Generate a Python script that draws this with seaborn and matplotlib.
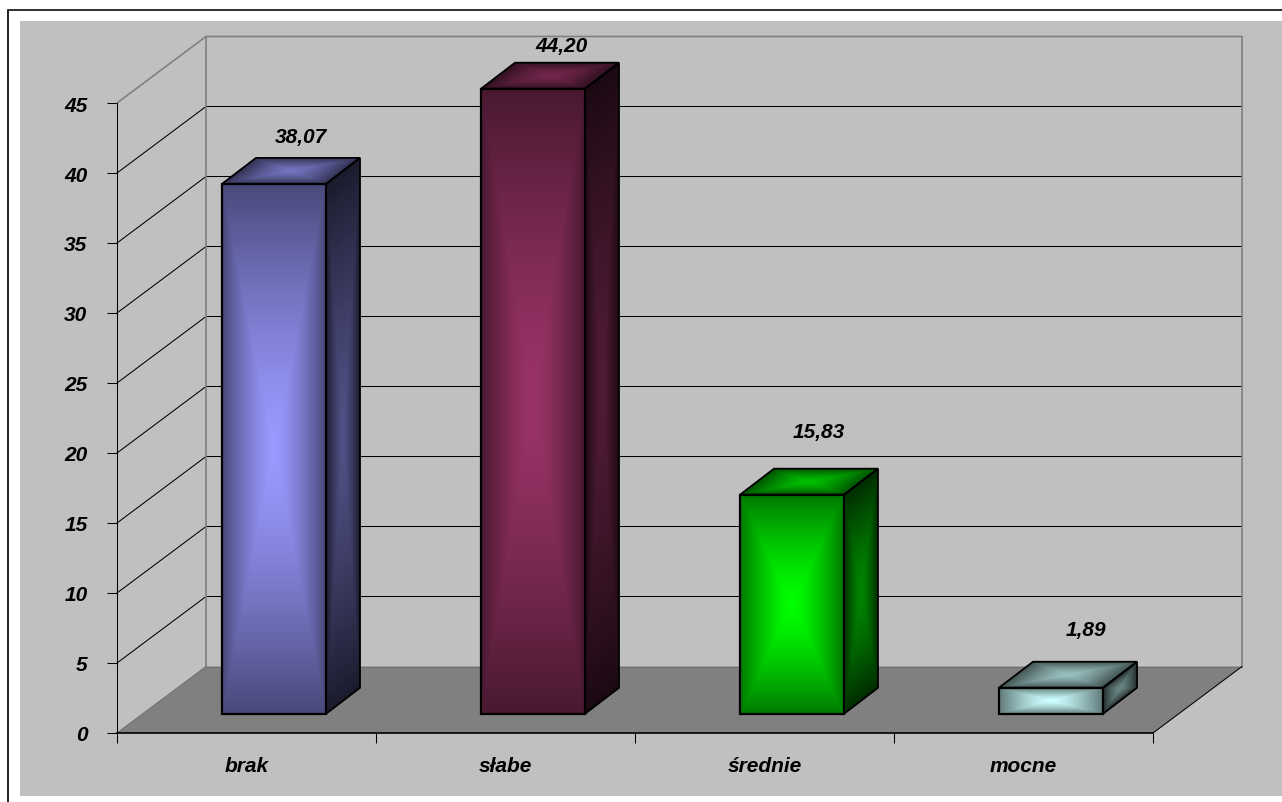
import numpy as np
import pandas as pd
import seaborn as sns
import matplotlib.pyplot as plt
from matplotlib.patches import Polygon, Rectangle
from matplotlib.colors import to_rgb

categories = ['brak', 'słabe', 'średnie', 'mocne']
value_labels = ['38,07', '44,20', '15,83', '1,89']
# bar heights as they are drawn in the picture, the printed labels differ a bit
bar_heights = [37.85, 44.65, 15.65, 1.86]
y_ticks = [0, 5, 10, 15, 20, 25, 30, 35, 40, 45]
bar_colors = ['#9999FF', '#993366', '#00FF00', '#CCFFFF']

W, H = 1282, 803
sns.set_style('white')
plt.rcParams['font.family'] = ['Liberation Sans', 'DejaVu Sans']
plt.rcParams['text.color'] = 'black'
plt.rcParams['ytick.labelcolor'] = 'black'


def px_axes(left, right, top, bottom):
    return [left / W, 1 - bottom / H, (right - left) / W, (bottom - top) / H]


def shade_face(corners, edge_col, mid_col, n=200):
    # corners: bottom-left, bottom-right, top-right, top-left
    c = np.array(corners)
    s = np.linspace(0, 1, n + 1)
    u, v = np.meshgrid(s, s)
    X = (1-u)*(1-v)*c[0, 0] + u*(1-v)*c[1, 0] + u*v*c[2, 0] + (1-u)*v*c[3, 0]
    Y = (1-u)*(1-v)*c[0, 1] + u*(1-v)*c[1, 1] + u*v*c[2, 1] + (1-u)*v*c[3, 1]
    cu = (s[:-1] + s[1:]) / 2
    uu, vv = np.meshgrid(cu, cu)
    t = np.maximum(np.abs(2*uu - 1), np.abs(2*vv - 1)) ** 1.4
    rgb = (1 - t)[..., None] * np.array(mid_col) + t[..., None] * np.array(edge_col)
    # bar_ax has a categorical x axis, so the mesh goes on ax with bar_ax's transform
    ax.pcolormesh(X, Y, rgb, shading='flat', zorder=3, antialiased=False,
                  transform=bar_ax.transData, clip_on=False)


fig = plt.figure(figsize=(W / 100, H / 100), dpi=100, facecolor='white')

# chart area and its outer frame
fig.add_artist(Rectangle((20 / W, 1 - 797 / H), 1262 / W, 775 / H, transform=fig.transFigure,
                         facecolor='#C0C0C0', edgecolor='none', zorder=-1))
fig.add_artist(plt.Line2D([8 / W, 8 / W], [0, 1 - 10.5 / H], color='#202020', lw=1.4, zorder=-1))
fig.add_artist(plt.Line2D([8 / W, 1], [1 - 10.5 / H, 1 - 10.5 / H], color='#303030', lw=1.4, zorder=-1))

# main axes: front plane of the 3d box
ax = fig.add_axes(px_axes(117, 1153, 104, 734))
ax.patch.set_alpha(0)
ax.set_ylim(0, 45)
ax.set_xlim(-0.5, 3.5)
ax.autoscale(False)
sx = 259.0  # pixels per category
sy = 14.0   # pixels per y unit
wall_dx = 89 / sx
wall_dy = 66.5 / sy
x0, x1 = -0.5, 3.5

ax.add_patch(Polygon([(x0, 0), (x1, 0), (x1 + wall_dx, wall_dy), (x0 + wall_dx, wall_dy)],
                     closed=True, facecolor='#808080', edgecolor='none', clip_on=False, zorder=1))
for tick in y_ticks[1:-1]:
    ax.plot([x0, x0 + wall_dx, x1 + wall_dx], [tick, tick + wall_dy, tick + wall_dy],
            color='black', lw=0.75, clip_on=False, zorder=2)
ax.plot([x0, x0 + wall_dx, x1 + wall_dx, x1 + wall_dx],
        [45, 45 + wall_dy, 45 + wall_dy, wall_dy], color='#808080', lw=1.2, clip_on=False, zorder=2)
ax.plot([x0 + wall_dx, x0 + wall_dx], [45 + wall_dy, wall_dy], color='#808080', lw=1.2,
        clip_on=False, zorder=2)
ax.plot([x0, x0 + wall_dx], [0, wall_dy], color='#707070', lw=0.75, clip_on=False, zorder=2)
ax.plot([x0 + wall_dx, x1 + wall_dx], [wall_dy, wall_dy], color='#707070', lw=0.75,
        clip_on=False, zorder=2)
ax.plot([x1, x1 + wall_dx], [0, wall_dy], color='black', lw=0.75, clip_on=False, zorder=2)

for side in ['top', 'right']:
    ax.spines[side].set_visible(False)
for side in ['left', 'bottom']:
    ax.spines[side].set_color('black')
    ax.spines[side].set_linewidth(0.75)
ax.spines['bottom'].set_linewidth(1.2)
ax.set_yticks(y_ticks)
ax.set_xticks(np.arange(-0.5, 4, 1))
ax.set_xticklabels([])
ax.tick_params(axis='both', direction='out', length=7.2, width=0.75, color='black', left=True, bottom=True)
ax.set_yticklabels([str(v) for v in y_ticks], fontsize=15, fontweight='bold', fontstyle='italic')
ax.tick_params(axis='y', pad=14)
for i, name in enumerate(categories):
    ax.annotate(name, (i, 0), xytext=(0, -33), textcoords='offset pixels', ha='center', va='center',
                fontsize=15, fontweight='bold', fontstyle='italic', annotation_clip=False)

# bars sit inside the depth of the floor, so same scales but shifted axes
bar_ax = fig.add_axes(px_axes(117 + 27.5, 1153 + 27.5, 84.8, 714.8))
bar_ax.patch.set_alpha(0)
df = pd.DataFrame({'kategoria': categories, 'wartosc': bar_heights})
sns.barplot(data=df, x='kategoria', y='wartosc', hue='kategoria', palette=bar_colors, width=104 / 259,
            edgecolor='black', linewidth=1.6, legend=False, ax=bar_ax, zorder=5)
bar_ax.set_xlim(-0.5, 3.5)
bar_ax.set_ylim(0, 45)
bar_ax.axis('off')

bar_dx = 34 / sx
bar_dy = 26 / sy
# the labels do not sit at one fixed distance from the bars in the reference
label_nudges = [(10, 21), (11, 17), (10, 37), (18, 32)]
for patch, color, label, nudge in zip(list(bar_ax.patches), bar_colors, value_labels, label_nudges):
    base = np.array(to_rgb(color))
    xl, w, h = patch.get_x(), patch.get_width(), patch.get_height()
    xr = xl + w
    patch.set_facecolor('none')
    patch.set_clip_on(False)
    patch.set_zorder(6)
    shade_face([(xl, 0), (xr, 0), (xr, h), (xl, h)], base * 0.47, base)
    shade_face([(xr, 0), (xr + bar_dx, bar_dy), (xr + bar_dx, h + bar_dy), (xr, h)],
               base * 0.17, base * 0.52)
    shade_face([(xl, h), (xr, h), (xr + bar_dx, h + bar_dy), (xl + bar_dx, h + bar_dy)],
               base * 0.32, base * 0.75)
    bar_ax.add_patch(Polygon([(xr, 0), (xr + bar_dx, bar_dy), (xr + bar_dx, h + bar_dy), (xr, h)],
                             closed=True, fill=False, edgecolor='black', lw=1.3, clip_on=False, zorder=6))
    bar_ax.add_patch(Polygon([(xl, h), (xr, h), (xr + bar_dx, h + bar_dy), (xl + bar_dx, h + bar_dy)],
                             closed=True, fill=False, edgecolor='black', lw=1.3, clip_on=False, zorder=6))
    bar_ax.annotate(label, (xl + w / 2 + bar_dx / 2, h + bar_dy), xytext=nudge, textcoords='offset pixels',
                    ha='center', va='center', fontsize=15, fontweight='bold', fontstyle='italic',
                    annotation_clip=False, zorder=7)

fig.savefig('out.png', dpi=100)
